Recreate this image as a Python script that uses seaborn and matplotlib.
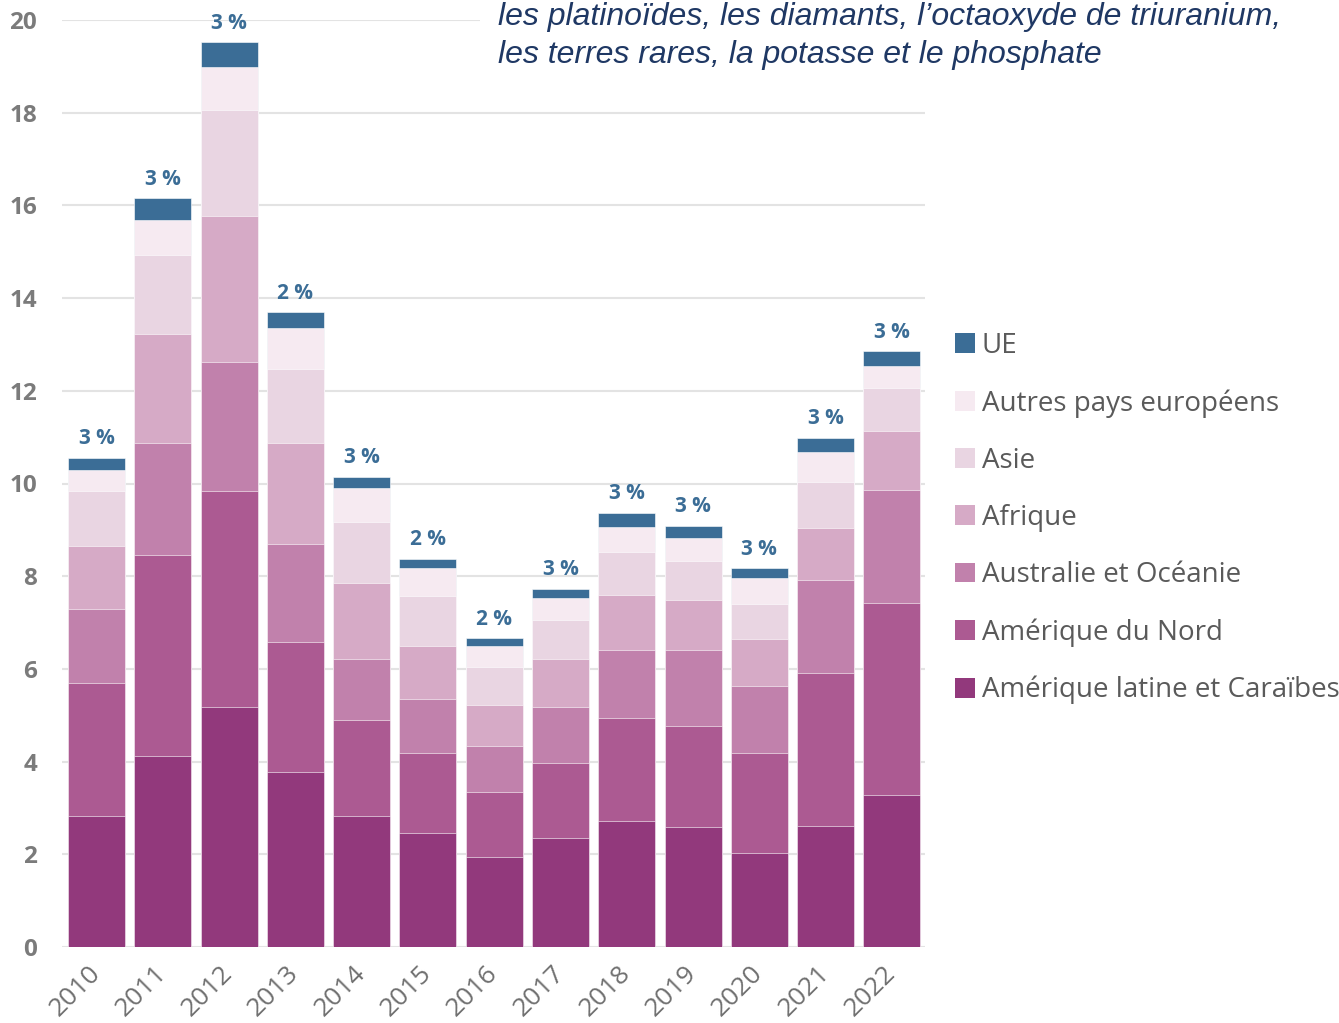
import pandas as pd
import matplotlib.pyplot as plt
import seaborn as sns
from matplotlib.patches import Patch, Rectangle

# data (values per region, stacked)
years = ["2010", "2011", "2012", "2013", "2014", "2015", "2016",
         "2017", "2018", "2019", "2020", "2021", "2022"]
latam = [2.82, 4.13, 5.17, 3.77, 2.82, 2.45, 1.94, 2.35, 2.71, 2.58, 2.03, 2.61, 3.28]
nord = [2.88, 4.32, 4.66, 2.80, 2.07, 1.74, 1.40, 1.63, 2.22, 2.18, 2.15, 3.31, 4.14]
oceanie = [1.59, 2.43, 2.79, 2.12, 1.33, 1.16, 1.00, 1.19, 1.47, 1.64, 1.46, 1.99, 2.44]
afrique = [1.36, 2.35, 3.15, 2.19, 1.63, 1.15, 0.88, 1.05, 1.20, 1.08, 1.00, 1.13, 1.27]
asie = [1.18, 1.69, 2.28, 1.58, 1.33, 1.08, 0.82, 0.84, 0.93, 0.85, 0.76, 0.99, 0.92]
autres = [0.46, 0.76, 0.94, 0.89, 0.72, 0.59, 0.46, 0.46, 0.54, 0.50, 0.56, 0.66, 0.48]
ue = [0.27, 0.47, 0.53, 0.34, 0.25, 0.21, 0.16, 0.21, 0.30, 0.26, 0.22, 0.30, 0.33]
ue_share = ["3 %", "3 %", "3 %", "2 %", "3 %", "2 %", "2 %",
            "3 %", "3 %", "3 %", "3 %", "3 %", "3 %"]

regions = ["Amérique latine et Caraïbes", "Amérique du Nord", "Australie et Océanie",
           "Afrique", "Asie", "Autres pays européens", "UE"]
colors = ["#92397c", "#ac5a92", "#c181ac", "#d6aac6", "#e9d5e2", "#f6eaf1", "#3b6d96"]

df = pd.DataFrame({"year": years, regions[0]: latam, regions[1]: nord,
                   regions[2]: oceanie, regions[3]: afrique, regions[4]: asie,
                   regions[5]: autres, regions[6]: ue})
# cumulative heights so we can layer barplots from the top down
cum = df[regions].cumsum(axis=1)
cum["year"] = df["year"]

sns.set_theme(style="white")
plt.rcParams["font.family"] = ["Open Sans", "DejaVu Sans"]

fig = plt.figure(figsize=(13.39, 10.23), dpi=100)
ax = fig.add_axes([62 / 1339, 1 - 947 / 1023, (925 - 62) / 1339, (947 - 20) / 1023])

for region, color in reversed(list(zip(regions, colors))):
    sns.barplot(data=cum, x="year", y=region, color=color, saturation=1,
                width=0.86, errorbar=None, ax=ax, zorder=2,
                edgecolor="white", linewidth=0.4)

# share of the EU above each bar
for i, label in enumerate(ue_share):
    ax.text(i, cum[regions[-1]][i] + 0.18, label, ha="center", va="bottom",
            fontsize=15, fontweight="bold", color="#3b6d96")

ax.set_xlim(-0.52, 12.5)
ax.set_ylim(0, 20)
ax.set_yticks(range(0, 21, 2))
ax.yaxis.grid(True, color="#e3e3e3", linewidth=1.5, zorder=0)
ax.set_axisbelow(True)
for s in ax.spines.values():
    s.set_visible(False)
ax.set_xlabel("")
ax.set_ylabel("")
ax.tick_params(axis="y", length=0, pad=18, labelsize=17.5, labelcolor="#7b7b7b")
for t in ax.get_yticklabels():
    t.set_fontweight("bold")
ax.tick_params(axis="x", length=0, pad=16, labelsize=19, labelcolor="#707070")
plt.setp(ax.get_xticklabels(), rotation=45, ha="right", va="center",
         rotation_mode="anchor")

# legend, top entry first
handles = [Patch(facecolor=c, edgecolor="none") for c in reversed(colors)]
fig.legend(handles, list(reversed(regions)), loc="upper left",
           bbox_to_anchor=(955 / 1339, 1 - 332 / 1023), frameon=False,
           fontsize=20, labelcolor="#5a5a5a", handlelength=0.72, handleheight=0.72,
           handletextpad=0.25, labelspacing=1.05, borderaxespad=0, borderpad=0)

# leftover caption text at the top (white box hides the top gridline)
fig.patches.append(Rectangle((480 / 1339, 1 - 80 / 1023), 1, 80 / 1023,
                             transform=fig.transFigure, facecolor="white",
                             edgecolor="none", zorder=2))
fig.text(498 / 1339, 1 - 25 / 1023,
         "les platinoïdes, les diamants, l’octaoxyde de triuranium,",
         fontsize=23, style="italic", color="#1f3864", family="Liberation Sans",
         va="baseline", zorder=3)
fig.text(498 / 1339, 1 - 63 / 1023,
         "les terres rares, la potasse et le phosphate",
         fontsize=23, style="italic", color="#1f3864", family="Liberation Sans",
         va="baseline", zorder=3)

fig.savefig("out.png", dpi=100)
